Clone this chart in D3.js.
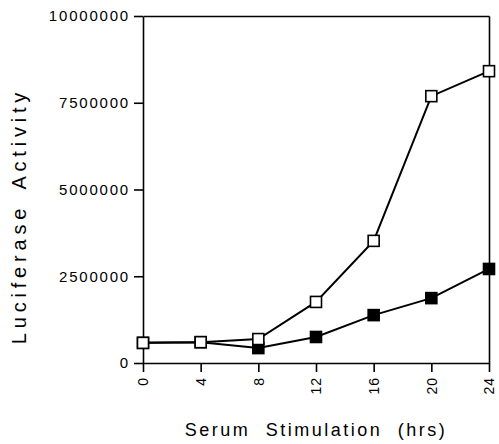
<!DOCTYPE html>
<html>
<head>
<meta charset="utf-8">
<script src="https://cdn.jsdelivr.net/npm/d3@7/dist/d3.min.js"></script>
<style>
  body { margin: 0; background: #fff; }
  svg { display: block; font-family: "Liberation Sans", Arial, sans-serif; }
</style>
</head>
<body>
<svg id="graph" width="499" height="444"></svg>
<script>
var hours = [0, 4, 8, 12, 16, 20, 24];
var openVals = [580000, 600000, 690000, 1760000, 3520000, 7690000, 8410000];
var filledVals = [580000, 600000, 430000, 750000, 1380000, 1870000, 2710000];
var yTicks = [0, 2500000, 5000000, 7500000, 10000000];

var width = 499, height = 444;
var margin = { top: 16, right: 10, bottom: 81, left: 143 };

var svg = d3.select("#graph");

var x = d3.scaleLinear()
    .domain([0, 24])
    .range([margin.left, width - margin.right]);

var y = d3.scaleLinear()
    .domain([0, 10000000])
    .range([height - margin.bottom, margin.top]);

// frame: top and right edges
svg.append("g")
    .attr("transform", `translate(0,${margin.top})`)
    .call(d3.axisTop(x).tickValues([]).tickSizeOuter(0))
    .call(g => g.select(".domain").attr("stroke-width", 1.6));
svg.append("g")
    .attr("transform", `translate(${width - margin.right},0)`)
    .call(d3.axisRight(y).tickValues([]).tickSizeOuter(0))
    .call(g => g.select(".domain").attr("stroke-width", 1.6));

// y axis
svg.append("g")
    .attr("transform", `translate(${margin.left},0)`)
    .call(d3.axisLeft(y).tickValues(yTicks).tickFormat(d3.format("d")).tickSize(9).tickSizeOuter(0))
    .call(g => g.select(".domain").attr("stroke-width", 1.6))
    .call(g => g.selectAll(".tick line").attr("stroke-width", 1.6))
    .call(g => g.selectAll(".tick text")
        .attr("x", -13)
        .attr("font-size", 15)
        .attr("letter-spacing", "1.8px")
        .attr("fill", "#000"));

// x axis
svg.append("g")
    .attr("transform", `translate(0,${height - margin.bottom})`)
    .call(d3.axisBottom(x).tickValues(hours).tickSize(9).tickSizeOuter(0))
    .call(g => g.select(".domain").attr("stroke-width", 1.6))
    .call(g => g.selectAll(".tick line").attr("stroke-width", 1.6))
    .call(g => g.selectAll(".tick text")
        .attr("transform", "rotate(-90)")
        .attr("x", -14)
        .attr("y", 0)
        .attr("dy", "0.35em")
        .attr("text-anchor", "end")
        .attr("font-size", 14)
        .attr("letter-spacing", "1px")
        .attr("fill", "#000"));

// axis titles
svg.append("text")
    .attr("x", (margin.left + width - margin.right) / 2)
    .attr("y", 436)
    .attr("text-anchor", "middle")
    .attr("font-size", 18)
    .attr("letter-spacing", "2.5px")
    .attr("word-spacing", "8px")
    .text("Serum Stimulation (hrs)");

svg.append("text")
    .attr("transform", "translate(26,216) rotate(-90)")
    .attr("text-anchor", "middle")
    .attr("font-size", 20)
    .attr("letter-spacing", "4.8px")
    .attr("word-spacing", "5px")
    .text("Luciferase Activity");

var line = d3.line()
    .x((d, i) => x(hours[i]))
    .y(d => y(d));

var series = [
    { vals: filledVals, fill: "#000" },
    { vals: openVals, fill: "#fff" }
];

var sq = 11;
series.forEach(function(s) {
    svg.append("path")
        .datum(s.vals)
        .attr("fill", "none")
        .attr("stroke", "#000")
        .attr("stroke-width", 2)
        .attr("d", line);
    svg.append("g")
        .selectAll("rect")
        .data(s.vals)
        .join("rect")
        .attr("x", (d, i) => x(hours[i]) - sq / 2)
        .attr("y", d => y(d) - sq / 2)
        .attr("width", sq)
        .attr("height", sq)
        .attr("fill", s.fill)
        .attr("stroke", "#000")
        .attr("stroke-width", 1.6);
});
</script>
</body>
</html>
